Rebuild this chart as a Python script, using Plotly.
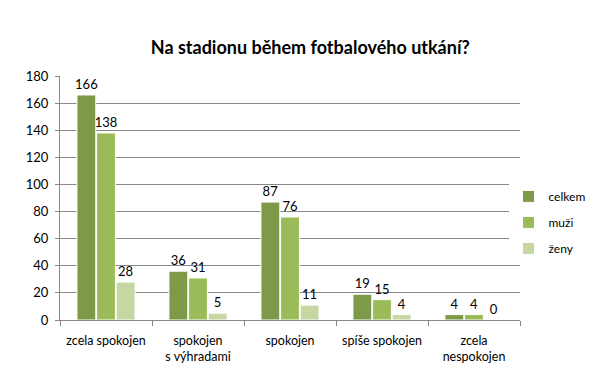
import plotly.graph_objects as go

categories = ["zcela spokojen", "spokojen<br>s výhradami", "spokojen", "spíše spokojen", "zcela<br>nespokojen"]
celkem = [166, 36, 87, 19, 4]
muzi = [138, 31, 76, 15, 4]
zeny = [28, 5, 11, 4, 0]

series = [("celkem", celkem, "#7E9A48"), ("muži", muzi, "#9BBB59"), ("ženy", zeny, "#C6D7A1")]

fig = go.Figure()
for name, vals, col in series:
    fig.add_trace(go.Bar(
        x=categories, y=vals, name=name, legendgroup=name,
        marker=dict(color=col, line=dict(color="white", width=1)),
        text=[str(v) for v in vals], textposition="outside", cliponaxis=False,
        constraintext="none",
        textfont=dict(family="Lato, Carlito, sans-serif", size=13, color="#000000"),
    ))

fig.update_layout(
    width=606, height=391,
    margin=dict(l=60, r=86, t=76, b=71, autoexpand=False),
    paper_bgcolor="white", plot_bgcolor="white",
    barmode="group", bargap=0.36, bargroupgap=0.04,
    font=dict(family="Lato, Carlito, sans-serif", size=13, color="#000000"),
    title=dict(text="<b>Na stadionu během fotbalového utkání?</b>", x=0.512, xanchor="center",
               y=0.877, yanchor="middle", font=dict(size=18, family="Lato, Carlito, sans-serif")),
    legend=dict(x=0.975, y=0.40, xanchor="left", yanchor="middle", tracegroupgap=7,
                font=dict(size=12), itemwidth=30),
    showlegend=True,
)
fig.update_xaxes(showline=True, linecolor="#888888", linewidth=1, ticks="outside",
                 tickson="boundaries", ticklen=5, tickcolor="#888888", showgrid=False,
                 tickangle=0, tickfont=dict(size=12.5), automargin=False, ticklabelstandoff=9)
fig.update_yaxes(range=[0, 180], dtick=20, showline=True, linecolor="#888888", linewidth=1,
                 ticks="outside", ticklen=4, tickcolor="#888888", showgrid=True,
                 gridcolor="#888888", gridwidth=1, zeroline=False, tickfont=dict(size=13),
                 automargin=False, ticklabelstandoff=4)

fig.write_html("out.html", config={"displayModeBar": False},
               post_script="document.body.style.margin='0';document.body.style.overflow='hidden';")
